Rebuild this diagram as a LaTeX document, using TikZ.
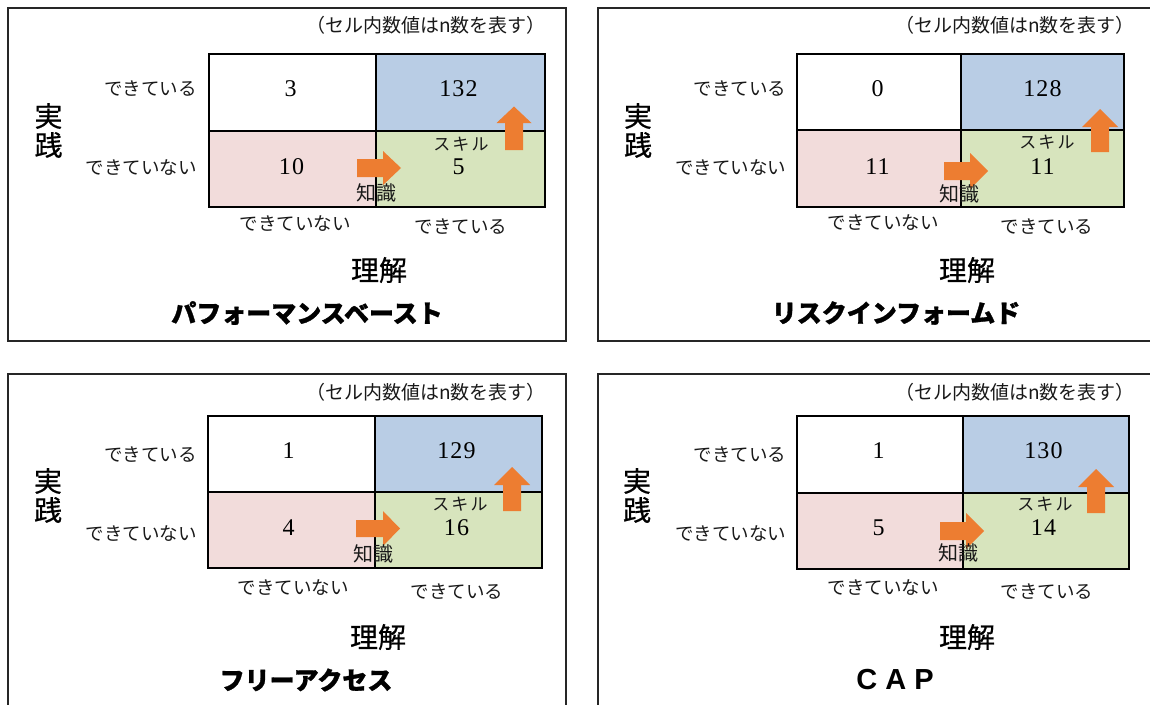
\documentclass[tikz,border=0pt]{standalone}
\usepackage{fontspec}
\setmainfont{Noto Sans CJK JP}
\newfontfamily\jp{Noto Sans CJK JP}
\newfontfamily\jpsp[LetterSpace=12]{Noto Sans CJK JP}
\newfontfamily\jpm[FakeBold=0.6]{Noto Sans CJK JP}
\newfontfamily\jph[FakeBold=1.2]{Noto Sans CJK JP}
\newfontfamily\numf[LetterSpace=5]{Liberation Serif}
\newfontfamily\capf{Liberation Sans}
\definecolor{cblue}{HTML}{B9CDE5}
\definecolor{cpink}{HTML}{F2DCDB}
\definecolor{cgreen}{HTML}{D7E4BD}
\definecolor{corange}{HTML}{ED7D31}
\begin{document}
\begin{tikzpicture}[x=1pt,y=-1pt,
 pframe/.style={draw=black!85, line width=1.6pt},
 pgrid/.style={draw=black, line width=1.8pt},
 parrow/.style={fill=corange},
 pnote/.style={font=\jp\fontsize{19}{22}\selectfont, anchor=east, inner sep=0pt, text=black!90},
 prow/.style={font=\jp\fontsize{18.5}{21}\selectfont, anchor=east, inner sep=0pt, text=black!90},
 pcol/.style={font=\jp\fontsize{18.5}{21}\selectfont, inner sep=0pt, text=black!90},
 paxis/.style={font=\jpm\fontsize{28}{30}\selectfont, inner sep=0pt},
 pnum/.style={font=\numf\fontsize{24}{26}\selectfont, inner sep=0pt},
 pskill/.style={font=\jpsp\fontsize{17}{20}\selectfont, inner sep=0pt, text=black!90},
 pknow/.style={font=\jp\fontsize{20}{22}\selectfont, inner sep=0pt, text=black!90},
 ptitle/.style={font=\jph\bfseries\fontsize{25}{28}\selectfont, inner sep=0pt},
 pcap/.style={font=\capf\bfseries\fontsize{29}{32}\selectfont, inner sep=0pt},
]
\useasboundingbox (0,0) rectangle (1150,704);
\clip (0,0) rectangle (1150,704);
\fill[white] (0,0) rectangle (1150,704);

% ---------- frames ----------
\draw[pframe] (8,8) rectangle (566,341);
\draw[pframe] (598,8) rectangle (1165,341);
\draw[pframe] (8,374) rectangle (566,720);
\draw[pframe] (598,374) rectangle (1165,720);

% ---------- panel 1 ----------
\fill[cpink] (209,131) rectangle (376,207);
\fill[cblue] (376,54) rectangle (545,131);
\fill[cgreen] (376,131) rectangle (545,207);
\draw[pgrid] (209,54) rectangle (545,207);
\draw[pgrid] (376,54) -- (376,207);
\draw[pgrid] (209,131) -- (545,131);
\fill[parrow] (505,150) -- (505,123) -- (496.5,123) -- (514,106.5) -- (531.5,123) -- (523,123) -- (523,150) -- cycle;
\fill[parrow] (357,159) -- (383,159) -- (383,151) -- (401,168) -- (383,185) -- (383,177) -- (357,177) -- cycle;
\node[pnote] (p1note) at (546,25) {（セル内数値はn数を表す）};
\node[prow] (p1r1) at (197,89) {できている};
\node[prow] (p1r2) at (197,168) {できていない};
\node[paxis] (p1ji) at (48.5,116) {実};
\node[paxis] (p1sen) at (48.5,145) {践};
\node[pnum] (p1a) at (290.5,89) {3};
\node[pnum] (p1b) at (458.5,89) {132};
\node[pnum] (p1c) at (291.5,167) {10};
\node[pnum] (p1d) at (458.5,167) {5};
\node[pskill] (p1skill) at (461,144) {スキル};
\node[pknow] (p1know) at (376,193) {知識};
\node[pcol] (p1c1) at (295,224) {できていない};
\node[pcol] (p1c2) at (461,227) {できている};
\node[paxis] (p1rikai) at (379,270) {理解};
\node[ptitle] (p1title) at (307,313) {パフォーマンスベースト};

% ---------- panel 2 ----------
\fill[cpink] (797,130) rectangle (961,207);
\fill[cblue] (961,54) rectangle (1124,130);
\fill[cgreen] (961,130) rectangle (1124,207);
\draw[pgrid] (797,54) rectangle (1124,207);
\draw[pgrid] (961,54) -- (961,207);
\draw[pgrid] (797,130) -- (1124,130);
\fill[parrow] (1091,152) -- (1091,127) -- (1082,127) -- (1100,109) -- (1118,127) -- (1109,127) -- (1109,152) -- cycle;
\fill[parrow] (944,162) -- (970,162) -- (970,153) -- (988,171) -- (970,189) -- (970,180) -- (944,180) -- cycle;
\node[pnote] (p2note) at (1135,25) {（セル内数値はn数を表す）};
\node[prow] (p2r1) at (786.5,89) {できている};
\node[prow] (p2r2) at (786.5,168) {できていない};
\node[paxis] (p2ji) at (638,116) {実};
\node[paxis] (p2sen) at (638,145) {践};
\node[pnum] (p2a) at (877.5,89) {0};
\node[pnum] (p2b) at (1042.5,89) {128};
\node[pnum] (p2c) at (877.5,167) {11};
\node[pnum] (p2d) at (1042.5,167) {11};
\node[pskill] (p2skill) at (1047,142) {スキル};
\node[pknow] (p2know) at (959,194) {知識};
\node[pcol] (p2c1) at (883,223) {できていない};
\node[pcol] (p2c2) at (1047,227) {できている};
\node[paxis] (p2rikai) at (967,270) {理解};
\node[ptitle] (p2title) at (896,313) {リスクインフォームド};

% ---------- panel 3 ----------
\fill[cpink] (208,492) rectangle (375,568);
\fill[cblue] (375,416) rectangle (542,492);
\fill[cgreen] (375,492) rectangle (542,568);
\draw[pgrid] (208,416) rectangle (542,568);
\draw[pgrid] (375,416) -- (375,568);
\draw[pgrid] (208,492) -- (542,492);
\fill[parrow] (503,511) -- (503,485) -- (494,485) -- (512,467) -- (530,485) -- (521,485) -- (521,511) -- cycle;
\fill[parrow] (356,520) -- (383,520) -- (383,511) -- (400,528.5) -- (383,546) -- (383,537) -- (356,537) -- cycle;
\node[pnote] (p3note) at (546,392) {（セル内数値はn数を表す）};
\node[prow] (p3r1) at (197,455) {できている};
\node[prow] (p3r2) at (197,534) {できていない};
\node[paxis] (p3ji) at (48,481) {実};
\node[paxis] (p3sen) at (48,510) {践};
\node[pnum] (p3a) at (288.5,451) {1};
\node[pnum] (p3b) at (456.5,451) {129};
\node[pnum] (p3c) at (288.5,528) {4};
\node[pnum] (p3d) at (456.5,528) {16};
\node[pskill] (p3skill) at (460,504) {スキル};
\node[pknow] (p3know) at (373,554) {知識};
\node[pcol] (p3c1) at (293,588) {できていない};
\node[pcol] (p3c2) at (457,592) {できている};
\node[paxis] (p3rikai) at (378,637) {理解};
\node[ptitle] (p3title) at (306,680) {フリーアクセス};

% ---------- panel 4 ----------
\fill[cpink] (797,493) rectangle (963,569);
\fill[cblue] (963,416) rectangle (1129,493);
\fill[cgreen] (963,493) rectangle (1129,569);
\draw[pgrid] (797,416) rectangle (1129,569);
\draw[pgrid] (963,416) -- (963,569);
\draw[pgrid] (797,493) -- (1129,493);
\fill[parrow] (1087,513) -- (1087,487) -- (1078,487) -- (1096,469) -- (1114,487) -- (1105,487) -- (1105,513) -- cycle;
\fill[parrow] (940,522) -- (966,522) -- (966,513) -- (984,531) -- (966,549) -- (966,540) -- (940,540) -- cycle;
\node[pnote] (p4note) at (1135,392) {（セル内数値はn数を表す）};
\node[prow] (p4r1) at (786.5,455) {できている};
\node[prow] (p4r2) at (786.5,534) {できていない};
\node[paxis] (p4ji) at (637,481) {実};
\node[paxis] (p4sen) at (637,510) {践};
\node[pnum] (p4a) at (878.5,451) {1};
\node[pnum] (p4b) at (1043.5,451) {130};
\node[pnum] (p4c) at (878.5,528) {5};
\node[pnum] (p4d) at (1043.5,528) {14};
\node[pskill] (p4skill) at (1045,504) {スキル};
\node[pknow] (p4know) at (958,553) {知識};
\node[pcol] (p4c1) at (883,588) {できていない};
\node[pcol] (p4c2) at (1047,592) {できている};
\node[paxis] (p4rikai) at (967,637) {理解};
\node[pcap] (p4title) at (895,680) {C A P};
\end{tikzpicture}
\end{document}
